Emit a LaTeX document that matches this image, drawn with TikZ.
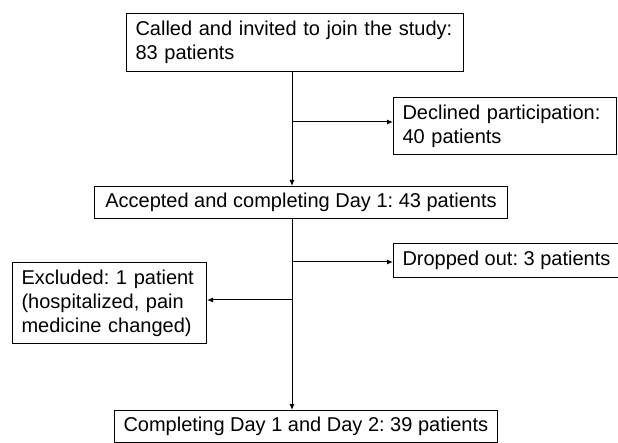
\documentclass[tikz,border=0pt]{standalone}
\usepackage{fontspec}
\setmainfont{Liberation Sans}
\usetikzlibrary{arrows.meta}
\frenchspacing

\begin{document}
\begin{tikzpicture}[x=1pt,y=-1pt,
  box/.style={draw,line width=1pt,anchor=north west,inner xsep=9pt,inner ysep=0pt,
              font=\fontsize{20}{24}\selectfont},
  flow/.style={line width=1pt,-{Latex[length=6pt,width=5pt]}}]
  \useasboundingbox (0,0) rectangle (618,443);
  \pgfmathsetmacro\xtrunk{292}   % x of the main vertical line

% boxes, placed at their top left corners
  \node[box,minimum width=337,minimum height=58,text width=319,align=left] (called) at (126,13)
       {Called and invited to join the study:\\83 patients};
  \node[box,minimum width=223,minimum height=57,text width=205,align=left] (declined) at (393,97)
       {Declined participation:\\40 patients};
  \node[box,minimum width=413,minimum height=32] (accepted) at (94,186)
       {Accepted and completing Day 1: 43 patients};
  \node[box,minimum width=223,minimum height=34] (dropped) at (393,243)
       {Dropped out: 3 patients};
  \node[box,minimum width=194,minimum height=81,text width=176,align=left] (excluded) at (12,262)
       {Excluded: 1 patient\\(hospitalized, pain\\medicine changed)};
  \node[box,minimum width=377,minimum height=32] (completing) at (114,410)
       {Completing Day 1 and Day 2: 39 patients};

% branch points on the trunk
  \coordinate (trunk) at (\xtrunk,0);
  \coordinate (jdecl) at (\xtrunk,122);
  \coordinate (jdrop) at (\xtrunk,262);
  \coordinate (jexcl) at (\xtrunk,300);

% connectors
  \draw[flow] (called.south -| trunk) -- (accepted.north -| trunk);
  \draw[flow] (jdecl) -- (jdecl -| declined.west);
  \draw[flow] (accepted.south -| trunk) -- (completing.north -| trunk);
  \draw[flow] (jdrop) -- (jdrop -| dropped.west);
  \draw[flow] (jexcl) -- (jexcl -| excluded.east);
\end{tikzpicture}
\end{document}
